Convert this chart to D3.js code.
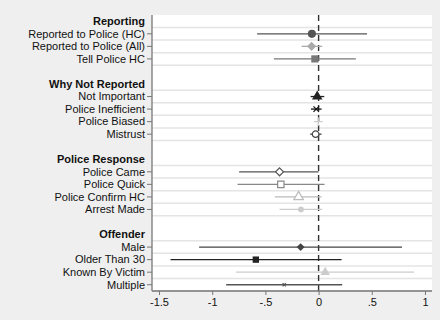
<!DOCTYPE html>
<html><head><meta charset="utf-8">
<script src="https://cdn.jsdelivr.net/npm/d3@7"></script>
<style>body{margin:0;background:#efefef}svg{display:block}</style>
</head><body><svg id="c" width="440" height="320"></svg>
<script>
const groups = ["Reporting", "Why Not Reported", "Police Response", "Offender"];
const labels = [
  ["Reported to Police (HC)", "Reported to Police (All)", "Tell Police HC"],
  ["Not Important", "Police Inefficient", "Police Biased", "Mistrust"],
  ["Police Came", "Police Quick", "Police Confirm HC", "Arrest Made"],
  ["Male", "Older Than 30", "Known By Victim", "Multiple"]
];
const estimates = [
  [-0.063, -0.066, -0.035],
  [-0.013, -0.022, -0.003, -0.028],
  [-0.367, -0.355, -0.188, -0.166],
  [-0.169, -0.59, 0.062, -0.323]
];
const ciLow = [
  [-0.578, -0.16, -0.42],
  [-0.075, -0.072, -0.012, -0.079],
  [-0.747, -0.762, -0.411, -0.367],
  [-1.123, -1.392, -0.775, -0.869]
];
const ciHigh = [
  [0.455, 0.034, 0.35],
  [0.053, 0.028, 0.006, 0.028],
  [0.0, 0.056, 0.028, 0.034],
  [0.784, 0.216, 0.897, 0.222]
];
const symbols = [
  ["circle", "diamond", "square"],
  ["triangle", "x", "plus", "ocircle"],
  ["odiamond", "osquare", "otriangle", "circle"],
  ["diamond", "square", "triangle", "x"]
];
const colors = [
  ["#555555", "#aaaaaa", "#777777"],
  ["#222222", "#111111", "#cccccc", "#444444"],
  ["#555555", "#888888", "#bbbbbb", "#cccccc"],
  ["#444444", "#222222", "#cccccc", "#555555"]
];
const sizes = [
  [52, 52, 52],
  [48, 22, 26, 34],
  [40, 40, 40, 26],
  [40, 40, 40, 8]
];
const xTicks = [-1.5, -1, -0.5, 0, 0.5, 1];
const xTickLabels = ["-1.5", "-1", "-.5", "0", ".5", "1"];

const FONT = "'Liberation Sans', Arial, Helvetica, sans-serif";

const rows = [];
let slot = 0;
groups.forEach((g, gi) => {
  rows.push({type: "header", label: g, slot: slot++});
  labels[gi].forEach((l, i) => rows.push({type: "row", label: l, slot: slot++,
    est: estimates[gi][i], lo: ciLow[gi][i], hi: ciHigh[gi][i],
    sym: symbols[gi][i], col: colors[gi][i], size: sizes[gi][i]}));
  if (gi < groups.length - 1) slot++;
});

const L = 152, R = 432, T = 15, B = 291;
const svg = d3.select("#c");
const x = d3.scaleLinear().domain([-1.566, 1.066]).range([L, R]);
const y = d3.scaleLinear().domain([-0.5, 21.5]).range([T, B]);

svg.append("rect").attr("x", L).attr("y", T).attr("width", R - L).attr("height", B - T).attr("fill", "#fff");

const dataRows = rows.filter(r => r.type === "row");
const gridY = new Set();
dataRows.forEach(r => { gridY.add(r.slot - 0.5); gridY.add(r.slot + 0.5); });
svg.append("g").selectAll("line").data([...gridY]).join("line")
  .attr("x1", L).attr("x2", R).attr("y1", d => y(d)).attr("y2", d => y(d))
  .attr("stroke", "#e4e4e4").attr("stroke-width", 1.5);

svg.append("line").attr("x1", x(0)).attr("x2", x(0)).attr("y1", T).attr("y2", B)
  .attr("stroke", "#333").attr("stroke-width", 1.4).attr("stroke-dasharray", "6,4");

svg.append("g").selectAll("line").data(dataRows).join("line")
  .attr("x1", d => x(d.lo)).attr("x2", d => x(d.hi))
  .attr("y1", d => y(d.slot)).attr("y2", d => y(d.slot))
  .attr("stroke", d => d.col).attr("stroke-width", 1.3);

const symMap = {
  circle: [d3.symbolCircle, "fill"], ocircle: [d3.symbolCircle, "hollow"],
  diamond: [d3.symbolDiamond2, "fill"], odiamond: [d3.symbolDiamond2, "hollow"],
  square: [d3.symbolSquare, "fill"], osquare: [d3.symbolSquare, "hollow"],
  triangle: [d3.symbolTriangle, "fill"], otriangle: [d3.symbolTriangle, "hollow"],
  x: [d3.symbolX, "line"], plus: [d3.symbolPlus, "line"]
};
svg.append("g").selectAll("path").data(dataRows).join("path")
  .attr("transform", d => `translate(${x(d.est)},${y(d.slot)})`)
  .attr("d", d => d3.symbol().type(symMap[d.sym][0]).size(d.size)())
  .attr("fill", d => symMap[d.sym][1] === "fill" ? d.col : (symMap[d.sym][1] === "hollow" ? "#fff" : "none"))
  .attr("stroke", d => d.col)
  .attr("stroke-width", d => symMap[d.sym][1] === "fill" ? 0 : 1.2);

svg.append("line").attr("x1", L).attr("x2", L).attr("y1", T).attr("y2", B).attr("stroke", "#777").attr("stroke-width", 1.3);
const lab = svg.append("g").style("font-family", FONT).attr("font-size", 11).attr("fill", "#111");
rows.forEach(r => {
  if (r.type === "row") {
    svg.append("line").attr("x1", L - 5).attr("x2", L).attr("y1", y(r.slot)).attr("y2", y(r.slot)).attr("stroke", "#777");
  }
  lab.append("text").attr("x", L - 7).attr("y", y(r.slot)).attr("dy", "0.35em")
    .attr("text-anchor", "end").attr("font-weight", r.type === "header" ? "bold" : "normal")
    .text(r.label);
});

const xAxis = d3.axisBottom(x).tickValues(xTicks).tickSize(4).tickPadding(3)
  .tickFormat((d, i) => xTickLabels[i]);
const ga = svg.append("g").attr("transform", `translate(0,${B})`).call(xAxis);
ga.select(".domain").attr("d", `M${L},0H${R}`).attr("stroke", "#777").attr("stroke-width", 1.3);
ga.selectAll(".tick line").attr("stroke", "#777");
ga.selectAll(".tick text").style("font-family", FONT).attr("font-size", 11).attr("fill", "#111");
</script></body></html>
